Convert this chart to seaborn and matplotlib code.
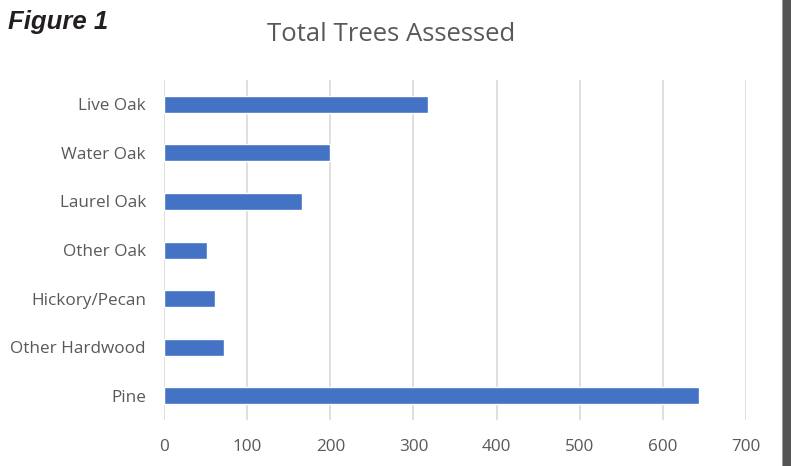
import matplotlib
matplotlib.use("Agg")
import matplotlib.pyplot as plt
import pandas as pd
import seaborn as sns
from matplotlib.patches import Rectangle

species = ["Live Oak", "Water Oak", "Laurel Oak", "Other Oak",
           "Hickory/Pecan", "Other Hardwood", "Pine"]
counts = [318, 200, 166, 52, 61, 72, 644]
x_ticks = [0, 100, 200, 300, 400, 500, 600, 700]

df = pd.DataFrame({"species": species, "count": counts})

sns.set_style("white")
plt.rcParams["font.family"] = ["Open Sans", "DejaVu Sans"]

fig = plt.figure(figsize=(7.91, 4.66), dpi=100)
ax = fig.add_axes([0.2073, 0.0987, 0.7358, 0.7296])

sns.barplot(data=df, x="count", y="species", orient="h", color="#4472C4",
            width=0.35, saturation=1, ax=ax, zorder=3)

ax.set_xlim(0, 700)
ax.set_ylim(6.5, -0.5)
ax.set_xticks(x_ticks)
ax.xaxis.grid(True, color="#D9D9D9", linewidth=1.2, zorder=0)
ax.set_axisbelow(True)
for s in ax.spines.values():
    s.set_visible(False)
ax.tick_params(axis="both", length=0, labelsize=12.3, colors="#595959")
ax.tick_params(axis="x", pad=14)
ax.tick_params(axis="y", pad=13)
ax.set_xlabel("")
ax.set_ylabel("")

fig.text(0.495, 0.925, "Total Trees Assessed", ha="center", va="center",
         fontsize=18.5, color="#595959")
fig.text(0.010, 0.953, "Figure 1", ha="left", va="center", fontsize=18.5,
         fontweight="bold", fontstyle="italic", family="Liberation Sans",
         color="#231F20")

# dark frame edge on the right
fig.patches.append(Rectangle((0.9905, 0), 0.0095, 1, transform=fig.transFigure,
                             facecolor="#555555", edgecolor="none"))
fig.patches.append(Rectangle((0.9885, 0), 0.002, 1, transform=fig.transFigure,
                             facecolor="#999999", edgecolor="none"))

fig.savefig("out.png", dpi=100)
